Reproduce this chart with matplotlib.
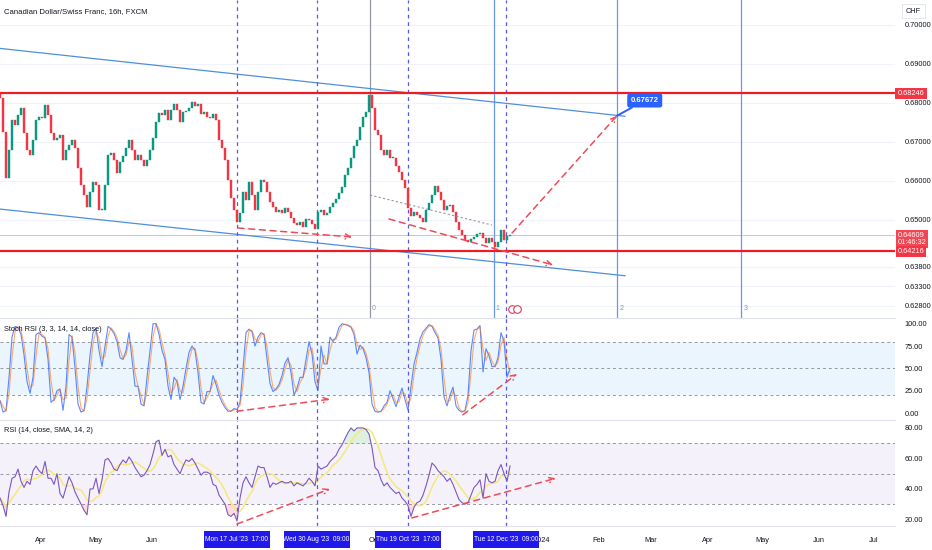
import matplotlib
matplotlib.use('Agg')
import matplotlib.pyplot as plt
import matplotlib.dates as mdates
from matplotlib import font_manager
from matplotlib.patches import Rectangle
import numpy as np
import pandas as pd

plt.rcParams['font.family'] = ['Liberation Sans', 'DejaVu Sans']

# ---------------- data ----------------
close = [0.6813, 0.6726, 0.6608, 0.6679, 0.6756, 0.6744, 0.6769, 0.6787, 0.6723, 0.6679,
         0.6667, 0.6705, 0.6756, 0.6764, 0.6762, 0.6795, 0.6769, 0.6723, 0.6705, 0.6710,
         0.6718, 0.6654, 0.6679, 0.6692, 0.6705, 0.6685, 0.6633, 0.6590, 0.6564, 0.6533,
         0.6572, 0.6597, 0.6590, 0.6526, 0.6526, 0.6590, 0.6667, 0.6672, 0.6654, 0.6621,
         0.6649, 0.6664, 0.6685, 0.6705, 0.6679, 0.6654, 0.6667, 0.6654, 0.6638, 0.6654,
         0.6679, 0.6710, 0.6751, 0.6774, 0.6769, 0.6782, 0.6756, 0.6782, 0.6797, 0.6782,
         0.6751, 0.6777, 0.6780, 0.6787, 0.6803, 0.6792, 0.6797, 0.6772, 0.6777, 0.6764,
         0.6762, 0.6772, 0.6756, 0.6705, 0.6685, 0.6654, 0.6603, 0.6556, 0.6526, 0.6495,
         0.6518, 0.6572, 0.6551, 0.6597, 0.6564, 0.6526, 0.6572, 0.6603, 0.6597, 0.6572,
         0.6546, 0.6533, 0.6521, 0.6526, 0.6518, 0.6531, 0.6521, 0.6505, 0.6492, 0.6487,
         0.6495, 0.6482, 0.6503, 0.6500, 0.6490, 0.6477, 0.6521, 0.6526, 0.6513, 0.6518,
         0.6533, 0.6544, 0.6554, 0.6569, 0.6585, 0.6615, 0.6633, 0.6659, 0.6690, 0.6705,
         0.6739, 0.6764, 0.6777, 0.6820, 0.6787, 0.6731, 0.6718, 0.6679, 0.6667, 0.6679,
         0.6659, 0.6659, 0.6638, 0.6623, 0.6603, 0.6582, 0.6531, 0.6510, 0.6521, 0.6513,
         0.6505, 0.6495, 0.6526, 0.6544, 0.6564, 0.6587, 0.6572, 0.6551, 0.6526, 0.6536,
         0.6538, 0.6521, 0.6495, 0.6474, 0.6462, 0.6449, 0.6444, 0.6451, 0.6456, 0.6464,
         0.6467, 0.6454, 0.6441, 0.6454, 0.6444, 0.6431, 0.6444, 0.6474, 0.6449, 0.6459,
         0.64609]
first_open = 0.6822

stoch_k = [14, 1, 3, 40, 85, 97, 96, 88, 65, 35, 22, 40, 88, 90, 86, 84, 60, 12, 15, 25,
           27, 3, 30, 88, 85, 50, 10, 1, 3, 30, 65, 90, 95, 70, 52, 75, 97, 94, 89, 80,
           62, 60, 70, 90, 60, 30, 30, 10, 8, 40, 70, 100, 100, 88, 70, 60, 30, 15, 40, 35,
           15, 30, 50, 68, 75, 70, 45, 12, 10, 24, 24, 42, 32, 20, 12, 6, 2, 2, 5, 4,
           12, 50, 90, 94, 91, 75, 85, 90, 88, 61, 33, 24, 27, 32, 42, 56, 62, 45, 20, 28,
           40, 40, 60, 80, 66, 35, 25, 75, 55, 55, 85, 80, 85, 96, 100, 99, 98, 96, 88, 66,
           76, 72, 62, 45, 10, 2, 1, 2, 8, 12, 25, 16, 7, 18, 28, 15, 3, 30, 55, 68,
           83, 91, 95, 99, 97, 90, 84, 60, 18, 8, 20, 29, 8, 3, 1, 3, 20, 70, 93, 94,
           98, 46, 72, 64, 52, 52, 62, 90, 80, 40, 50]

rsi = [34, 29, 22, 38, 47, 48, 53, 45, 41, 45, 43, 52, 55, 52, 50, 58, 47, 47, 43, 50,
       37, 34, 41, 48, 44, 38, 34, 30, 26, 23, 40, 40, 47, 37, 46, 59, 60, 57, 53, 52,
       56, 59, 57, 61, 58, 54, 51, 48, 49, 52, 56, 63, 71, 72, 62, 66, 61, 62, 56, 53,
       50, 55, 59, 58, 60, 57, 53, 49, 51, 51, 50, 43, 42, 36, 33, 30, 23, 22, 24, 19,
       34, 44, 48, 44, 41, 48, 55, 54, 54, 48, 41, 44, 43, 44, 45, 44, 44, 45, 42, 44,
       43, 42, 44, 47, 45, 42, 55, 53, 54, 55, 58, 60, 62, 66, 69, 73, 77, 80, 78, 80,
       80, 80, 79, 76, 67, 54, 52, 46, 42, 44, 41, 39, 37, 38, 34, 32, 29, 22, 28, 31,
       32, 36, 42, 49, 57, 55, 52, 50, 48, 45, 47, 43, 38, 33, 31, 30, 31, 36, 41, 43,
       46, 34, 50, 45, 44, 45, 52, 56, 50, 45, 55]

bar_start, bar_end = '2023-03-09 15:00', '2023-12-14 14:00'
x_range = ('2023-03-09 14:40', '2024-07-12 22:00')

price_ticks = [0.628, 0.633, 0.638, 0.65, 0.66, 0.67, 0.68, 0.69, 0.70]
level_hi, level_lo, last_price = 0.68246, 0.64216, 0.64609
countdown = '01:46:32'

channel_dates = ('2023-03-09 14:40', '2024-02-15 17:00')
channel_upper = (0.6940, 0.6766)
channel_lower = (0.6528, 0.6357)

marker_dates = ['2023-07-17 17:00', '2023-08-30 09:00', '2023-10-19 17:00', '2023-12-12 09:00']
marker_labels = ["Mon 17 Jul '23  17:00", "Wed 30 Aug '23  09:00",
                 "Thu 19 Oct '23  17:00", "Tue 12 Dec '23  09:00"]

fib_dates = ['2023-09-28 17:00', '2023-12-05 15:00', '2024-02-11 13:00', '2024-04-19 11:00']
fib_labels = ['0', '1', '2', '3']

main_arrows = [(('2023-07-18 06:00', 0.64795), ('2023-09-18 20:00', 0.64564)),
               (('2023-10-09 03:00', 0.65026), ('2024-01-07 05:00', 0.63846)),
               (('2023-12-15 17:00', 0.64667), ('2024-02-11 07:00', 0.67672))]
target_price = 0.67672
gray_trend = (('2023-09-28 17:00', 0.6564), ('2023-12-04 17:00', 0.6487))
stoch_arrows = [(('2023-07-17 17:00', 2), ('2023-09-06 17:00', 15.5)),
                (('2023-11-18 17:00', -2), ('2023-12-18 10:00', 43.7))]
rsi_arrows = [(('2023-07-17 17:00', 17), ('2023-09-06 17:00', 40)),
              (('2023-10-21 17:00', 21), ('2024-01-08 17:00', 47))]
event_dates = ['2023-12-15 12:00', '2023-12-18 12:00']

# month labels visible on the time scale (the others sit under the date boxes)
month_ticks = ['2023-04-01', '2023-05-01', '2023-06-01', '2023-10-01', '2024-01-01', '2024-02-01',
               '2024-03-01', '2024-04-01', '2024-05-01', '2024-06-01', '2024-07-01']
month_labels = ['Apr', 'May', 'Jun', 'Oct', '2024', 'Feb', 'Mar', 'Apr', 'May', 'Jun', 'Jul']

# ---------------- figure ----------------
W, H = 932, 550
fig = plt.figure(figsize=(W / 100, H / 100), dpi=100)
fig.patch.set_facecolor('white')


def frect(l, t, r, b):
    return [l / W, 1 - b / H, (r - l) / W, (b - t) / H]


ax = fig.add_axes(frect(0, 0, 895, 318))
ax_s = fig.add_axes(frect(0, 318, 895, 420), sharex=ax)
ax_r = fig.add_axes(frect(0, 420, 895, 526), sharex=ax)

d = lambda s: mdates.date2num(pd.Timestamp(s))
TXT = '#131722'
FS = 5.3

dates = mdates.date2num(pd.date_range(bar_start, bar_end, periods=len(close)))
c = np.array(close)
o = np.concatenate([[first_open], c[:-1]])

for a in (ax, ax_s, ax_r):
    a.set_facecolor('white')
    for sp in a.spines.values():
        sp.set_visible(False)
    a.yaxis.tick_right()
    a.tick_params(axis='y', length=0, pad=7, labelsize=FS, labelcolor=TXT)
    a.tick_params(axis='x', length=0, labelbottom=False)
for a in (ax_s, ax_r):
    a.spines['top'].set_visible(True)
    a.spines['top'].set_color('#E0E3EB')
ax_r.spines['bottom'].set_visible(True)
ax_r.spines['bottom'].set_color('#E0E3EB')

ax.set_xlim(d(x_range[0]), d(x_range[1]))

# ---- main pane ----
ax.set_ylim(0.62487, 0.70641)
ax.set_yticks(price_ticks)
ax.set_yticklabels([f'{v:.5f}' for v in price_ticks])
for v in price_ticks:
    ax.axhline(v, color='#F0F3FA', lw=0.8, zorder=0)

up = c >= o
col = np.where(up, '#089981', '#F23645')
bot = np.minimum(o, c)
hgt = np.maximum(np.abs(c - o), 0.00015)
ax.bar(dates, hgt, bottom=bot, width=1.0, color=col, edgecolor=col, linewidth=0.3, zorder=3)

cd = [d(s) for s in channel_dates]
ax.plot(cd, channel_upper, color='#4F8FDB', lw=0.9, zorder=2)
ax.plot(cd, channel_lower, color='#4F8FDB', lw=0.9, zorder=2)

ax.axhline(level_hi, color='#EE1C25', lw=1.6, zorder=4)
ax.axhline(level_lo, color='#EE1C25', lw=1.6, zorder=4)
ax.axhline(last_price, color='#F23645', lw=0.6, alpha=0.45, zorder=1)

for i, fd in enumerate(fib_dates):
    colr = '#9598A1' if i == 0 else '#6A96EE'
    ax.axvline(d(fd), color=colr, lw=0.9, zorder=1)
    ax.text(d(fd) + 1.2, 0.02, fib_labels[i], transform=ax.get_xaxis_transform(),
            fontsize=5, color=colr, ha='left', va='bottom')

ax.plot([d(gray_trend[0][0]), d(gray_trend[1][0])], [gray_trend[0][1], gray_trend[1][1]],
        color='#9598A1', lw=0.8, ls=(0, (2, 2)), zorder=4)

RED_D = '#F04A5A'
for (s, e) in main_arrows:
    ax.annotate('', xy=(d(e[0]), e[1]), xytext=(d(s[0]), s[1]),
                arrowprops=dict(arrowstyle='->', color=RED_D, lw=1.1, ls=(0, (4, 3)),
                                mutation_scale=9, shrinkA=0, shrinkB=0), zorder=5)

te = main_arrows[2][1]
ax.annotate(f'{target_price:.5f}', xy=(d(te[0]), te[1]), xytext=(20, 11), textcoords='offset points',
            fontsize=5.6, color='white', fontweight='bold', ha='center', va='center',
            bbox=dict(boxstyle='round,pad=0.45,rounding_size=0.3', fc='#2962FF', ec='none'),
            arrowprops=dict(arrowstyle='-', color='#2962FF', lw=1.4, shrinkA=0, shrinkB=0), zorder=6)

for ed in event_dates:
    ax.plot([d(ed)], [0.027], transform=ax.get_xaxis_transform(), marker='o', ms=5.5,
            mfc='white', mec='#E2395A', mew=0.8, clip_on=False, zorder=6)

ax.text(0.005, 0.965, 'Canadian Dollar/Swiss Franc, 16h, FXCM', transform=ax.transAxes,
        fontsize=5.6, color=TXT, ha='left', va='center')

ytr = ax.get_yaxis_transform()
ax.text(1.003, level_hi, f'{level_hi:.5f}', transform=ytr, fontsize=FS, color='white',
        ha='left', va='center', bbox=dict(boxstyle='square,pad=0.3', fc='#F23645', ec='none'),
        clip_on=False, zorder=7)
ax.text(1.003, last_price + 0.0009, f'{last_price:.5f}\n{countdown}', transform=ytr,
        fontsize=FS, color='white', ha='left', va='top', linespacing=1.05,
        bbox=dict(boxstyle='square,pad=0.25', fc='#F23645', ec='none', alpha=0.92),
        clip_on=False, zorder=8)
ax.text(1.003, level_lo - 0.0002, f'{level_lo:.5f}', transform=ytr, fontsize=FS, color='white',
        ha='left', va='center', bbox=dict(boxstyle='square,pad=0.25', fc='#F23645', ec='none'),
        clip_on=False, zorder=9)
ax.text(1.012, 0.965, 'CHF', transform=ax.transAxes, fontsize=FS, color=TXT, ha='left', va='center',
        bbox=dict(boxstyle='square,pad=0.5', fc='white', ec='#E0E3EB', lw=0.6), clip_on=False)

# ---- stoch rsi pane ----
k = pd.Series(stoch_k, dtype=float)
dline = k.rolling(2, min_periods=1).mean()
ax_s.set_ylim(-7.8, 106.4)
ax_s.set_yticks([0, 25, 50, 75, 100])
ax_s.set_yticklabels(['0.00', '25.00', '50.00', '75.00', '100.00'])
ax_s.axhspan(20, 80, color='#2196F3', alpha=0.09, lw=0, zorder=0)
for lv in (80, 50, 20):
    ax_s.axhline(lv, color='#9598A1', lw=0.7, ls=(0, (3, 3)), zorder=1)
ax_s.plot(dates, k, color='#2962FF', lw=0.8, alpha=0.75, zorder=3)
ax_s.plot(dates, dline, color='#FF6D00', lw=0.8, alpha=0.55, zorder=3)
for (s, e) in stoch_arrows:
    ax_s.annotate('', xy=(d(e[0]), e[1]), xytext=(d(s[0]), s[1]),
                  arrowprops=dict(arrowstyle='->', color=RED_D, lw=1.1, ls=(0, (4, 3)),
                                  mutation_scale=9, shrinkA=0, shrinkB=0), zorder=5)
ax_s.text(0.005, 0.89, 'Stoch RSI (3, 3, 14, 14, close)', transform=ax_s.transAxes,
          fontsize=FS, color=TXT, ha='left', va='center')

# ---- rsi pane ----
r = np.array(rsi, dtype=float)
sma = pd.Series(r).rolling(6, min_periods=1).mean()
ax_r.set_ylim(15.7, 85.2)
ax_r.set_yticks([20, 40, 60, 80])
ax_r.set_yticklabels(['20.00', '40.00', '60.00', '80.00'])
ax_r.axhspan(30, 70, color='#7E57C2', alpha=0.08, lw=0, zorder=0)
for lv in (70, 50, 30):
    ax_r.axhline(lv, color='#9598A1', lw=0.7, ls=(0, (3, 3)), zorder=1)
ax_r.fill_between(dates, r, 70, where=r > 70, interpolate=True, color='#4CAF50', alpha=0.18, lw=0)
ax_r.fill_between(dates, r, 30, where=r < 30, interpolate=True, color='#F23645', alpha=0.18, lw=0)
ax_r.plot(dates, sma, color='#F5E97A', lw=1.1, zorder=2)
ax_r.plot(dates, r, color='#7E57C2', lw=0.8, zorder=3)
for (s, e) in rsi_arrows:
    ax_r.annotate('', xy=(d(e[0]), e[1]), xytext=(d(s[0]), s[1]),
                  arrowprops=dict(arrowstyle='->', color=RED_D, lw=1.1, ls=(0, (4, 3)),
                                  mutation_scale=9, shrinkA=0, shrinkB=0), zorder=5)
ax_r.text(0.005, 0.9, 'RSI (14, close, SMA, 14, 2)', transform=ax_r.transAxes,
          fontsize=FS, color=TXT, ha='left', va='center')

# time axis
ax_r.set_xticks([d(m) for m in month_ticks])
ax_r.set_xticklabels(month_labels)
ax_r.tick_params(axis='x', labelbottom=True, length=0, pad=8, labelsize=FS, labelcolor=TXT)

# vertical marker lines across panes + date boxes
for a in (ax, ax_s, ax_r):
    for md in marker_dates:
        a.axvline(d(md), color='#5B57EE', lw=0.9, ls=(0, (3, 3)), zorder=2)

names = {f.name for f in font_manager.fontManager.ttflist}
narrow = 'Liberation Sans Narrow' in names
box_family = ['Liberation Sans Narrow', 'DejaVu Sans'] if narrow else ['Liberation Sans', 'DejaVu Sans']
box_fs = 5.3 if narrow else 4.75

fig.canvas.draw()
for md, lab in zip(marker_dates, marker_labels):
    xpx = ax_r.transData.transform((d(md), 50))[0]
    bw, bh = 66, 17
    yc = 539.5
    fig.add_artist(Rectangle(((xpx - bw / 2) / W, 1 - (yc + bh / 2) / H), bw / W, bh / H,
                             transform=fig.transFigure, fc='#2119EC', ec='none', zorder=10))
    fig.text(xpx / W, 1 - yc / H, lab, fontsize=box_fs, family=box_family, color='white',
             ha='center', va='center', zorder=11)

fig.savefig('out.png', dpi=100, facecolor='white')
